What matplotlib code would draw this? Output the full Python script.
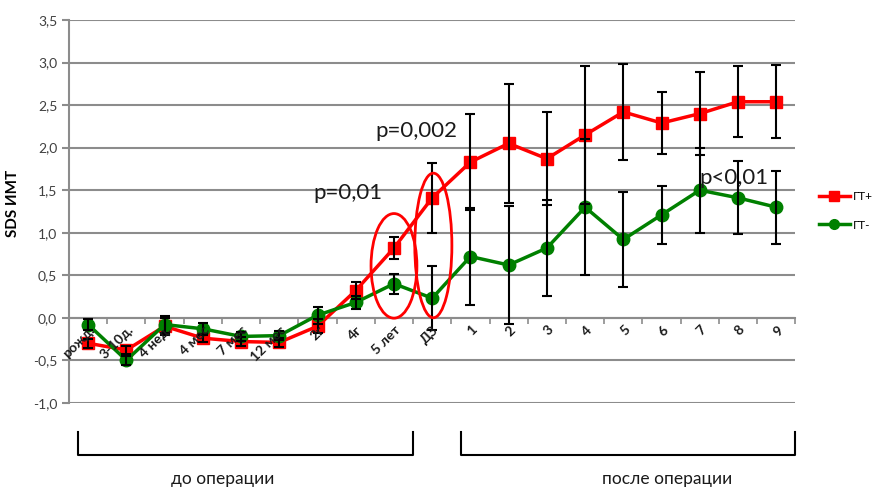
import matplotlib
matplotlib.use("Agg")
import matplotlib.pyplot as plt
from matplotlib.patches import Ellipse
from matplotlib.lines import Line2D
from matplotlib.ticker import FuncFormatter, MultipleLocator

plt.rcParams["font.family"] = ["Lato", "DejaVu Sans"]

categories = ["рожд.", "3-10д.", "4 нед.", "4 мес", "7 мес", "12 мес", "2г", "4г",
              "5 лет", "ДЗ", "1", "2", "3", "4", "5", "6", "7", "8", "9"]
gt_plus = [-0.30, -0.38, -0.10, -0.24, -0.28, -0.29, -0.10, 0.32, 0.82, 1.41,
           1.83, 2.05, 1.87, 2.15, 2.42, 2.29, 2.40, 2.54, 2.54]
gt_plus_err = [0.05, 0.05, 0.10, 0.05, 0.05, 0.05, 0.08, 0.10, 0.13, 0.41,
               0.56, 0.70, 0.55, 0.81, 0.56, 0.36, 0.49, 0.42, 0.43]
gt_minus = [-0.08, -0.50, -0.08, -0.13, -0.22, -0.21, 0.03, 0.18, 0.40, 0.23,
            0.72, 0.62, 0.82, 1.30, 0.92, 1.21, 1.50, 1.41, 1.30]
gt_minus_err = [0.07, 0.05, 0.10, 0.07, 0.05, 0.05, 0.10, 0.08, 0.12, 0.38,
                0.57, 0.69, 0.57, 0.80, 0.56, 0.34, 0.50, 0.43, 0.43]

x = list(range(len(categories)))

fig = plt.figure(figsize=(8.74, 4.9), dpi=100)
ax = fig.add_axes([0.079, 0.178, 0.831, 0.781])

gray = "#8c8c8c"
ax.set_ylim(-1.0, 3.5)
ax.set_xlim(-0.5, len(categories) - 0.5)
ax.yaxis.set_major_locator(MultipleLocator(0.5))
ax.yaxis.set_major_formatter(FuncFormatter(lambda v, p: f"{v:.1f}".replace(".", ",")))
ax.grid(axis="y", color=gray, linewidth=1.5, zorder=0)
ax.set_axisbelow(True)

for s in ["top", "right"]:
    ax.spines[s].set_visible(False)
ax.spines["left"].set_color(gray)
ax.spines["left"].set_linewidth(1.5)
ax.spines["bottom"].set_position(("data", 0))
ax.spines["bottom"].set_color(gray)
ax.spines["bottom"].set_linewidth(1.5)

ax.tick_params(axis="y", colors=gray, length=5, width=1.5, labelsize=10,
               labelcolor="#404040")
ax.set_xticks([i - 0.5 for i in range(len(categories) + 1)])
ax.set_xticklabels([])
ax.tick_params(axis="x", colors=gray, length=4, width=1.2, direction="out")
for i, lab in enumerate(categories):
    ax.text(i + 0.12, -0.12, lab, rotation=45, rotation_mode="anchor",
            ha="right", va="center", fontsize=10, fontweight="bold",
            color="#1a1a1a", zorder=6)

ax.plot(x, gt_plus, color="#ff0000", linewidth=2.5, marker="s", markersize=8, zorder=3)
ax.plot(x, gt_minus, color="#008000", linewidth=2.5, marker="o", markersize=9, zorder=3)
ax.errorbar(x, gt_plus, yerr=gt_plus_err, fmt="none", ecolor="black",
            elinewidth=1.5, capsize=3.5, capthick=1.5, zorder=4)
ax.errorbar(x, gt_minus, yerr=gt_minus_err, fmt="none", ecolor="black",
            elinewidth=1.5, capsize=3.5, capthick=1.5, zorder=4)

ax.add_patch(Ellipse((8.0, 0.61), 1.2, 1.23, fill=False, edgecolor="#ff0000",
                     linewidth=2, zorder=5))
ax.add_patch(Ellipse((9.03, 0.85), 0.97, 1.70, fill=False, edgecolor="#ff0000",
                     linewidth=2, zorder=5))

ax.text(5.89, 1.47, "p=0,01", fontsize=16, ha="left", va="center", color="#1a1a1a")
ax.text(7.51, 2.19, "p=0,002", fontsize=16, ha="left", va="center", color="#1a1a1a")
ax.text(16.0, 1.64, "p<0,01", fontsize=16, ha="left", va="center", color="#1a1a1a")

ax.set_ylabel("SDS ИМТ", fontsize=11, fontweight="bold")
ax.yaxis.set_label_coords(-0.067, 0.52)

# brackets below the axis
br_top, br_bot = -1.34, -1.61
for x0, x1, lx, lab in [(-0.26, 8.5, 3.53, "до операции"),
                        (9.76, 18.5, 15.15, "после операции")]:
    ax.plot([x0, x0, x1, x1], [br_top, br_bot, br_bot, br_top], color="black",
            linewidth=1.5, clip_on=False)
    ax.text(lx, -1.9, lab, ha="center", va="center", fontsize=12.5,
            color="#1a1a1a", clip_on=False)

handles = [Line2D([], [], color="#ff0000", linewidth=2.5, marker="s", markersize=7),
           Line2D([], [], color="#008000", linewidth=2.5, marker="o", markersize=7)]
fig.legend(handles, ["ГТ+", "ГТ-"], loc="center left", bbox_to_anchor=(0.925, 0.57),
           frameon=False, fontsize=8.5, handlelength=2.6, labelspacing=1.5,
           handletextpad=0.3)

fig.savefig("out.png", dpi=100)
